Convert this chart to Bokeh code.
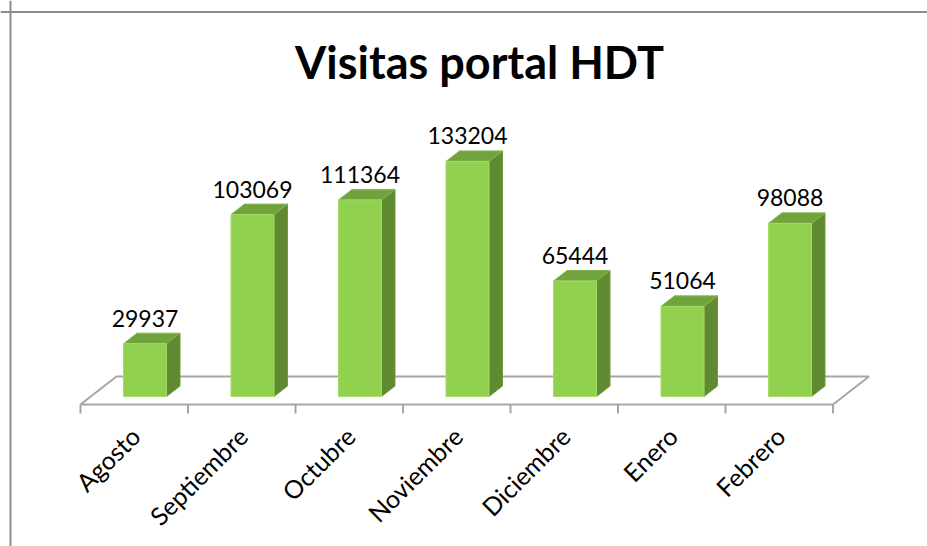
import math
from bokeh.plotting import figure
from bokeh.models import ColumnDataSource, Range1d, Label, Span
from bokeh.core.properties import value
from bokeh.embed import file_html
from bokeh.resources import INLINE

# ---- data ----
categories = ["Agosto", "Septiembre", "Octubre", "Noviembre", "Diciembre", "Enero", "Febrero"]
visits = [29937, 103069, 111364, 133204, 65444, 51064, 98088]
title_text = "Visitas portal HDT"

# ---- layout constants (pixels of the page) ----
W, H = 927, 546
PAGE_OFF = 0
PPX = 107.5          # px per category
PPY = 0.001765       # px per visit
X0 = 80              # page x of category 0 (front floor edge)
Y0 = 396             # page y of bar base

def dx(px):
    return px / PPX

def dy(px):
    return px / PPY

def xr_page(px):
    return (px - X0) / PPX

def yr_page(py):
    return (Y0 - py) / PPY

p = figure(width=W, height=H, output_backend="svg", toolbar_location=None,
           x_axis_type=None, y_axis_type=None, min_border=0,
           x_range=Range1d(xr_page(PAGE_OFF), xr_page(PAGE_OFF + W)),
           y_range=Range1d(yr_page(PAGE_OFF + H), yr_page(PAGE_OFF)))
p.grid.visible = False
p.outline_line_color = None
p.background_fill_color = "white"
p.border_fill_color = "white"

# chart border (left and top)
p.add_layout(Span(location=xr_page(10), dimension="height", line_color="#8C8C8C", line_width=2))
p.add_layout(Span(location=yr_page(11.5), dimension="width", line_color="#8C8C8C", line_width=2))

# ---- floor ----
n = len(categories)
fy = -dy(8)
bdx, bdy = dx(36), dy(28)
floor_x = [0, n, n + bdx, bdx]
floor_y = [fy, fy, fy + bdy, fy + bdy]
p.patch(floor_x, floor_y, fill_color="white", line_color="#A6A6A6", line_width=2)
tick_x = list(range(n + 1))
p.segment(x0=tick_x, y0=[fy] * (n + 1), x1=tick_x, y1=[fy - dy(9)] * (n + 1),
          line_color="#A6A6A6", line_width=2)

# ---- bars ----
half = 0.2
off = 0.6
ddx, ddy = dx(13.5), dy(10.5)
front_xs, front_ys, top_xs, top_ys, side_xs, side_ys = [], [], [], [], [], []
for i, v in enumerate(visits):
    xl, xr = i + off - half, i + off + half
    front_xs.append([xl, xr, xr, xl]); front_ys.append([0, 0, v, v])
    top_xs.append([xl, xr, xr + ddx, xl + ddx]); top_ys.append([v, v, v + ddy, v + ddy])
    side_xs.append([xr, xr + ddx, xr + ddx, xr]); side_ys.append([0, ddy, v + ddy, v])

p.patches(side_xs, side_ys, fill_color="#5F8A32", line_color="#6E9B3C", line_width=1)
p.patches(top_xs, top_ys, fill_color="#71A33C", line_color="#86B851", line_width=1)
p.patches(front_xs, front_ys, fill_color="#92D050", line_color="#A3DA66", line_width=1)

# ---- value labels ----
lab_src = ColumnDataSource(dict(
    x=[i + off for i in range(n)],
    y=[v + ddy + dy(15) for v in visits],
    t=[str(v) for v in visits]))
p.text(x="x", y="y", text="t", source=lab_src, text_font=value("Lato"),
       text_font_size="23px", text_color="black", text_align="center",
       text_baseline="alphabetic")

# ---- category labels ----
cat_src = ColumnDataSource(dict(
    x=[i + 0.5 + dx(1) for i in range(n)],
    y=[yr_page(431)] * n,
    t=categories))
p.text(x="x", y="y", text="t", source=cat_src, angle=math.pi / 4,
       text_font=value("Lato"), text_font_size="25px", text_color="black",
       text_align="right", text_baseline="middle")

# ---- title ----
p.add_layout(Label(x=xr_page(479), y=yr_page(61), text=title_text,
                   text_font="Lato", text_font_style="bold", text_font_size="45px",
                   text_color="black", text_align="center", text_baseline="alphabetic"))

open("out.html", "w").write(file_html(p, INLINE))
